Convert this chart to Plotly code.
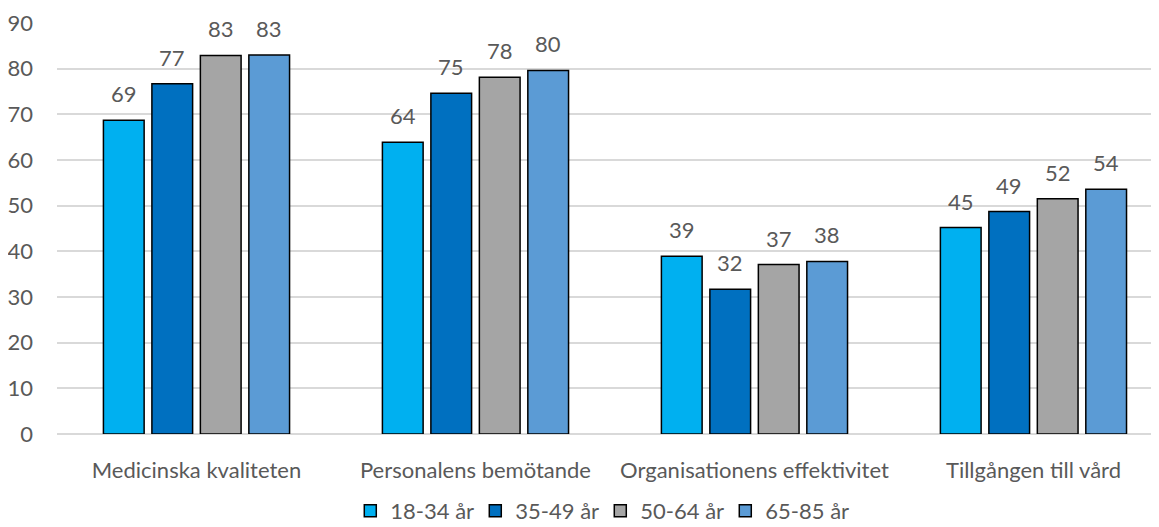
import plotly.graph_objects as go

categories = ["Medicinska kvaliteten", "Personalens bemötande", "Organisationens effektivitet", "Tillgången till vård"]
series_names = ["18-34 år", "35-49 år", "50-64 år", "65-85 år"]
v_18_34 = [68.7, 63.9, 38.9, 45.2]
v_35_49 = [76.7, 74.6, 31.7, 48.7]
v_50_64 = [82.9, 78.1, 37.1, 51.5]
v_65_85 = [83.0, 79.6, 37.8, 53.6]
colors = ["#00B0F0", "#0070C0", "#A5A5A5", "#5B9BD5"]

FONT = "Lato"
TXT = "#595959"
FS = 22
BARGAP = 0.305

fig = go.Figure()
all_series = [v_18_34, v_35_49, v_50_64, v_65_85]
for name, vals, col in zip(series_names, all_series, colors):
    fig.add_trace(go.Bar(
        x=categories, y=vals, name=name,
        marker=dict(color=col, line=dict(color="#000000", width=1.5)),
        hoverinfo="x+y",
    ))

# data labels, placed at each bar's slot within its category group
n = len(all_series)
slot = (1 - BARGAP) / n
for i, vals in enumerate(all_series):
    for ci, v in enumerate(vals):
        fig.add_annotation(
            x=ci + (i - (n - 1) / 2) * slot, y=v, xref="x", yref="y",
            text=str(round(v)), showarrow=False, yanchor="bottom", yshift=11,
            font=dict(family=FONT, size=FS, color=TXT),
        )

fig.update_layout(
    width=1151, height=519,
    margin=dict(l=49, r=0, t=15, b=93, autoexpand=False),
    paper_bgcolor="white", plot_bgcolor="white",
    barmode="group", bargap=BARGAP, bargroupgap=0.16,
    font=dict(family=FONT, size=FS, color=TXT),
    legend=dict(orientation="h", x=0.493, xanchor="center", y=-0.187, yanchor="middle",
                font=dict(family=FONT, size=FS, color=TXT),
                entrywidth=80, traceorder="normal"),
    showlegend=True,
)
fig.update_xaxes(range=[-0.5, 3.45], showgrid=False, showline=False,
                 ticks="outside", ticklen=17, tickcolor="rgba(0,0,0,0)",
                 tickfont=dict(family=FONT, size=FS, color=TXT), zeroline=False)
fig.update_yaxes(range=[0, 90], dtick=10, showgrid=True, gridcolor="#D9D9D9", gridwidth=1.5,
                 zeroline=True, zerolinecolor="#D9D9D9", zerolinewidth=1.5, showline=False,
                 ticklabelstandoff=23, tickfont=dict(family=FONT, size=FS, color=TXT))

fig.write_html("out.html")
